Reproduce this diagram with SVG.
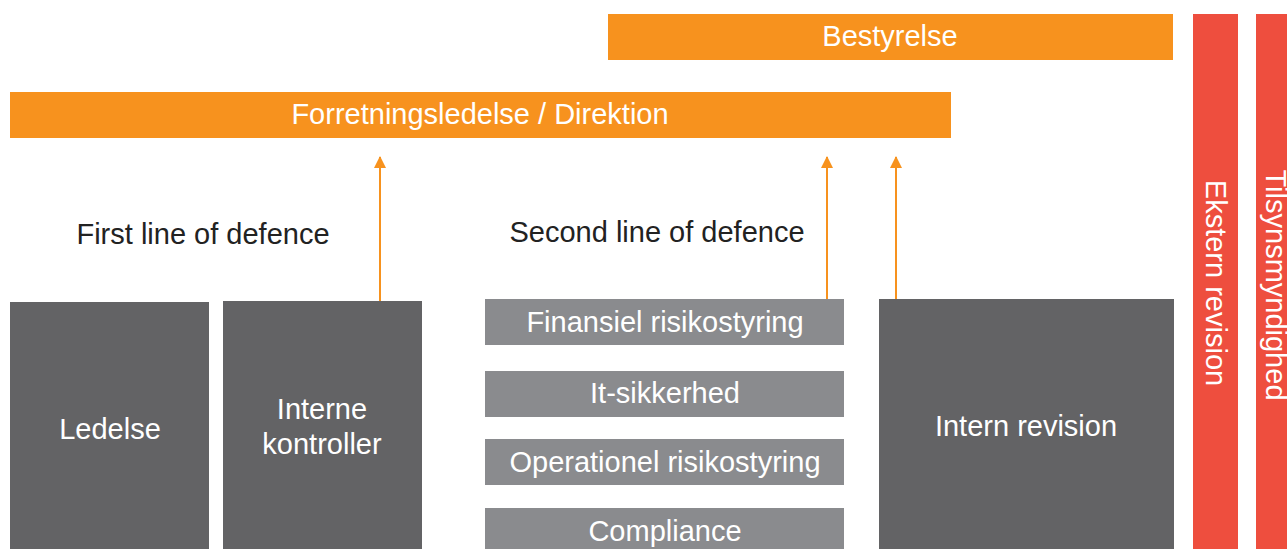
<svg xmlns="http://www.w3.org/2000/svg" width="1287" height="549" viewBox="0 0 1287 549">
<defs>
<style>
.t{font-family:"Liberation Sans",Arial,Helvetica,sans-serif;font-size:29px;fill:#ffffff;text-anchor:middle}
.lbl{font-family:"Liberation Sans",Arial,Helvetica,sans-serif;font-size:29px;fill:#222222;text-anchor:middle}
.orange{fill:#F7921E}
.red{fill:#EE4E3E}
.dark{fill:#636365}
.light{fill:#8A8B8E}
.arr{stroke:#F7921E;stroke-width:2;fill:none;marker-end:url(#ah)}
</style>
<marker id="ah" viewBox="0 0 12 12" refX="11" refY="6" markerWidth="12" markerHeight="12" markerUnits="userSpaceOnUse" orient="auto">
<path d="M0,0 L12,6 L0,12 Z" fill="#F7921E"/>
</marker>
</defs>
<rect width="1287" height="549" fill="#ffffff"/>

<g id="bestyrelse">
<rect class="orange" x="608" y="14" width="565" height="46"/>
<text class="t" x="890" y="46">Bestyrelse</text>
</g>
<g id="forretningsledelse">
<rect class="orange" x="10" y="92" width="941" height="46"/>
<text class="t" x="480" y="124">Forretningsledelse / Direktion</text>
</g>
<g id="ekstern-revision">
<rect class="red" x="1193" y="14" width="45" height="535"/>
<text class="t" transform="translate(1206,283) rotate(90)">Ekstern revision</text>
</g>
<g id="tilsynsmyndighed">
<rect class="red" x="1256" y="14" width="31" height="535"/>
<text class="t" transform="translate(1266,285) rotate(90)">Tilsynsmyndighed</text>
</g>

<g id="first-line-label">
<text class="lbl" x="203" y="244">First line of defence</text>
</g>
<g id="second-line-label">
<text class="lbl" x="657" y="242">Second line of defence</text>
</g>

<g id="ledelse">
<rect class="dark" x="10" y="302" width="199" height="247"/>
<text class="t" x="110" y="439">Ledelse</text>
</g>
<g id="interne-kontroller">
<rect class="dark" x="223" y="301" width="199" height="248"/>
<text class="t" x="322" y="419">Interne</text>
<text class="t" x="322" y="454">kontroller</text>
</g>
<g id="finansiel">
<rect class="light" x="485" y="299" width="359" height="46"/>
<text class="t" x="665" y="332">Finansiel risikostyring</text>
</g>
<g id="it-sikkerhed">
<rect class="light" x="485" y="371" width="359" height="46"/>
<text class="t" x="665" y="403">It-sikkerhed</text>
</g>
<g id="operationel">
<rect class="light" x="485" y="439" width="359" height="46"/>
<text class="t" x="665" y="472">Operationel risikostyring</text>
</g>
<g id="compliance">
<rect class="light" x="485" y="508" width="359" height="41"/>
<text class="t" x="665" y="541">Compliance</text>
</g>
<g id="intern-revision">
<rect class="dark" x="879" y="299" width="295" height="250"/>
<text class="t" x="1026" y="436">Intern revision</text>
</g>

<g id="connectors">
<line class="arr" x1="380" y1="301" x2="380" y2="157"/>
<line class="arr" x1="827" y1="299" x2="827" y2="157"/>
<line class="arr" x1="896" y1="299" x2="896" y2="157"/>
</g>
</svg>
